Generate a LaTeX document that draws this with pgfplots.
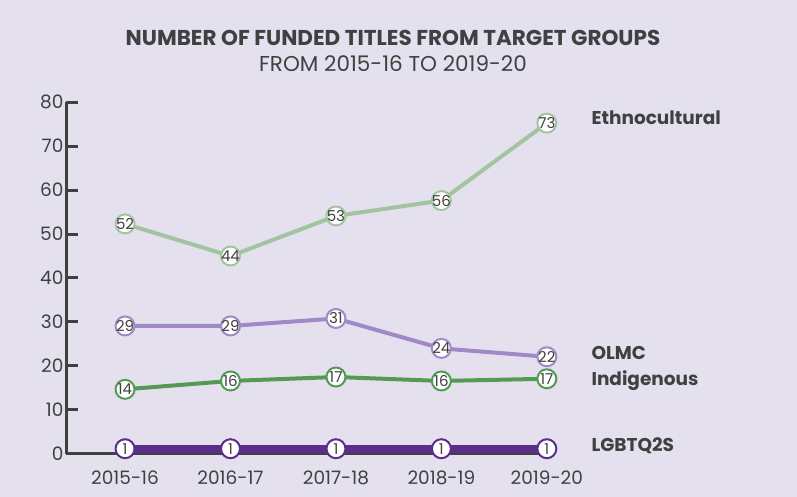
\documentclass[border=0pt]{standalone}
\usepackage{pgfplots}
\pgfplotsset{compat=1.18}
\usepackage{fontspec}
\setmainfont{Poppins}
\definecolor{bg}{RGB}{228,224,238}
\definecolor{txt}{RGB}{64,64,64}
\definecolor{ethno}{RGB}{163,196,160}
\definecolor{olmc}{RGB}{160,137,196}
\definecolor{indig}{RGB}{84,154,84}
\definecolor{lgbt}{RGB}{92,45,138}
\begin{document}
\begin{tikzpicture}[x=1pt,y=1pt]
\fill[bg] (0,0) rectangle (797,497);
\begin{axis}[
  at={(66pt,43pt)}, anchor=south west, scale only axis,
  width=484pt, height=352pt,
  xmin=-0.56, xmax=4.03, ymin=0, ymax=80,
  axis x line=bottom, axis y line=left,
  axis line style={-, line width=3pt, color=txt},
  xtick={0,1,2,3,4},
  xticklabels={2015-16,2016-17,2017-18,2018-19,2019-20},
  ytick={0,10,...,80},
  tick align=inside,
  major tick length=12pt,
  major tick style={line width=3pt, color=txt},
  x tick style={draw=none},
  tick label style={font=\fontsize{18.5}{18.5}\selectfont, text=txt},
  xticklabel style={yshift=-13pt},
  yticklabel style={xshift=1pt},
  /pgf/number format/assume math mode=true,
  clip=false,
  point meta=explicit,
  nodes near coords={\pgfmathprintnumber{\pgfplotspointmeta}},
  every node near coord/.style={anchor=center, font=\fontsize{15}{15}\selectfont, text=txt},
]
\addplot[lgbt, line width=8pt, mark=*, mark size=9.5pt, mark options={fill=white, draw=lgbt, line width=2pt}]
 table[meta=m] {
x y m
0 1.2 1
1 1.2 1
2 1.2 1
3 1.2 1
4 1.2 1
};
\addplot[indig, line width=4pt, mark=*, mark size=9.5pt, mark options={fill=white, draw=indig, line width=2pt}]
 table[meta=m] {
x y m
0 14.7 14
1 16.6 16
2 17.5 17
3 16.6 16
4 17.1 17
};
\addplot[olmc, line width=4pt, mark=*, mark size=9.5pt, mark options={fill=white, draw=olmc, line width=2pt}]
 table[meta=m] {
x y m
0 29.1 29
1 29.1 29
2 30.8 31
3 24.0 24
4 22.1 22
};
\addplot[ethno, line width=4pt, mark=*, mark size=9.5pt, mark options={fill=white, draw=ethno, line width=2pt}]
 table[meta=m] {
x y m
0 52.3 52
1 45.0 44
2 54.1 53
3 57.6 56
4 75.2 73
};
\end{axis}
\node[anchor=west, font=\bfseries\fontsize{18.5}{18.5}\selectfont, text=txt] at (588,379) {Ethnocultural};
\node[anchor=west, font=\bfseries\fontsize{18.5}{18.5}\selectfont, text=txt] at (588,144) {OLMC};
\node[anchor=west, font=\bfseries\fontsize{18.5}{18.5}\selectfont, text=txt] at (588,116) {Indigenous};
\node[anchor=west, font=\bfseries\fontsize{18.5}{18.5}\selectfont, text=txt] at (588,51) {LGBTQ2S};
\node[font=\bfseries\fontsize{21.5}{21.5}\selectfont, text=txt] at (393,459) {NUMBER OF FUNDED TITLES FROM TARGET GROUPS};
\node[font=\fontsize{21.5}{21.5}\selectfont, text=txt] at (393,433) {FROM 2015-16 TO 2019-20};
\end{tikzpicture}
\end{document}
